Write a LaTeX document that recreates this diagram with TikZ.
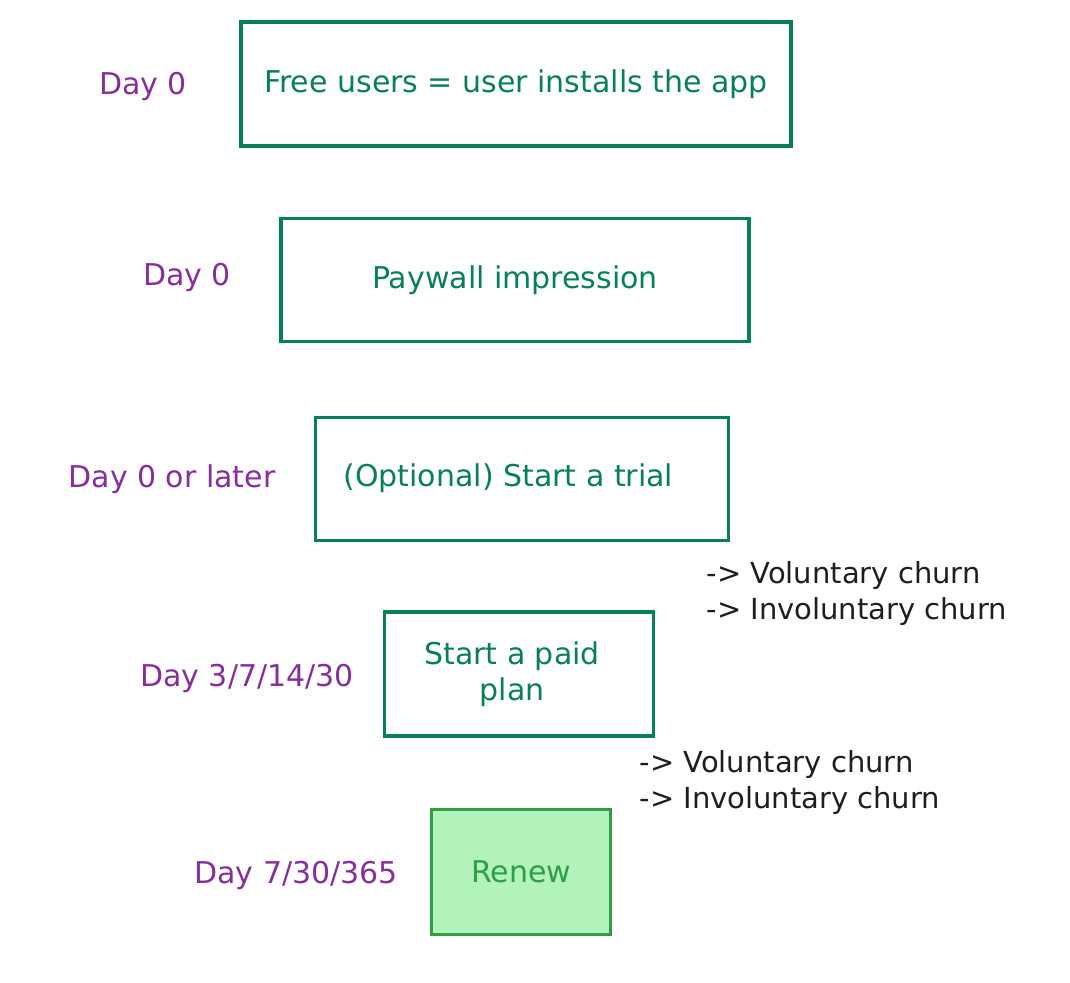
\documentclass[tikz,border=0pt]{standalone}
\usepackage{fontspec}
\setmainfont{DejaVu Sans}
\begin{document}
\begin{tikzpicture}[x=1pt,y=-1pt,
  stage/.style={draw=tealg, line width=3.5pt, text=tealg, font=\fontsize{30}{36}\selectfont, align=center},
  daylbl/.style={text=grape, font=\fontsize{30}{36}\selectfont},
  churn/.style={text=ink, font=\fontsize{29}{36}\selectfont, align=left, anchor=west}]
\definecolor{tealg}{HTML}{087F5B}
\definecolor{grape}{HTML}{862E9C}
\definecolor{ink}{HTML}{1E1E1E}
\definecolor{renewstroke}{HTML}{2F9E44}
\definecolor{renewfill}{HTML}{B2F2BB}
\useasboundingbox (0,0) rectangle (1070,982);
% boxes
\node[stage, minimum width=550pt, minimum height=124pt] (b1) at (516,84) {Free users = user installs the app};
\node[stage, minimum width=468pt, minimum height=123pt] (b2) at (515,280) {Paywall impression};
\node[stage, minimum width=413pt, minimum height=123pt] (b3) at (522,479) {};
\node[text=tealg, font=\fontsize{30}{36}\selectfont, anchor=west] (t3) at (340,478) {(Optional) Start a trial};
\node[stage, minimum width=269pt, minimum height=124pt] (b4) at (519,674) {};
\node[text=tealg, font=\fontsize{30}{36}\selectfont, align=center] (t4) at (512,674) {Start a paid\\plan};
\node[stage, draw=renewstroke, fill=renewfill, text=renewstroke, minimum width=179pt, minimum height=125pt] (b5) at (521,872) {Renew};
% day labels
\node[daylbl] (d1) at (143,86) {Day 0};
\node[daylbl] (d2) at (187,277) {Day 0};
\node[daylbl] (d3) at (172,479) {Day 0 or later};
\node[daylbl] (d4) at (247,678) {Day 3/7/14/30};
\node[daylbl] (d5) at (296,875) {Day 7/30/365};
% churn notes
\node[churn] (c1) at (703,593) {-> Voluntary churn\\-> Involuntary churn};
\node[churn] (c2) at (636,782) {-> Voluntary churn\\-> Involuntary churn};
\end{tikzpicture}
\end{document}
